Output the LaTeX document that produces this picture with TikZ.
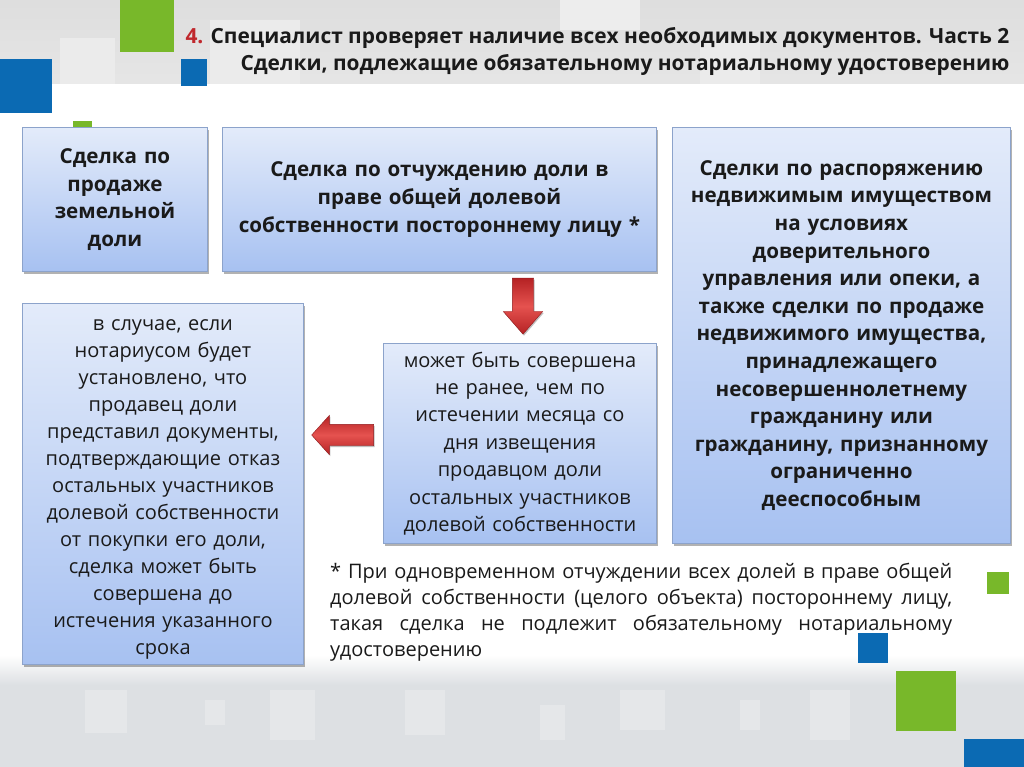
\documentclass[tikz,border=0pt]{standalone}
\usepackage{fontspec}
\setmainfont{Open Sans}
\usetikzlibrary{shadows,shapes.arrows}
\definecolor{grn}{HTML}{78B82A}
\definecolor{blu}{HTML}{0B6AB3}
\definecolor{bxtop}{HTML}{E3EBFA}
\definecolor{bxbot}{HTML}{A7C1F1}
\definecolor{bxline}{HTML}{8CA3CB}
\definecolor{titlered}{HTML}{C0282D}
\definecolor{arrdark}{HTML}{B52224}
\definecolor{arrlight}{HTML}{E5524F}
\definecolor{txt}{HTML}{1A1A1A}
\definecolor{bandgray}{HTML}{DDE0E3}
\definecolor{fadegray}{HTML}{E5E7E9}
\tikzset{
  box/.style={draw=bxline, line width=0.9pt, top color=bxtop, bottom color=bxbot,
    drop shadow={shadow xshift=2pt, shadow yshift=-3pt, fill=black, opacity=0.3},
    align=center, inner sep=3pt, anchor=north west, text=txt},
  boldtext/.style={font=\bfseries\fontsize{20.6}{27.6}\selectfont},
  plaintext/.style={font=\fontsize{20}{27.4}\selectfont},
  redarrow/.style={single arrow, draw=arrdark!80!black, line width=0.4pt,
    top color=arrdark, bottom color=arrdark, middle color=arrlight,
    inner xsep=0pt, inner ysep=10.5pt, single arrow head indent=0pt,
    drop shadow={shadow xshift=1pt, shadow yshift=-1.5pt, fill=black, opacity=0.25}},
  fade/.style={fill=fadegray, draw=none}
}
\begin{document}
\begin{tikzpicture}[x=1pt,y=-1pt]
\useasboundingbox (0,0) rectangle (1024,767);
% background
\fill[white] (0,0) rectangle (1024,767);
\shade[top color=black!13, bottom color=black!10] (0,0) rectangle (1024,84);
\fill[black!8] (60,38) rectangle (115,84);
\fill[black!8] (210,20) rectangle (300,84);
\fill[black!7] (560,0) rectangle (640,30);
\fill[black!8] (700,40) rectangle (760,84);
\shade[top color=white, bottom color=bandgray] (0,655) rectangle (1024,685);
\fill[bandgray] (0,685) rectangle (1024,767);
\fill[fade] (85,690) rectangle (127,733);
\fill[fade] (205,700) rectangle (225,725);
\fill[fade] (270,690) rectangle (315,740);
\fill[fade] (405,690) rectangle (445,735);
\fill[fade] (540,705) rectangle (565,740);
\fill[fade] (620,690) rectangle (665,730);
\fill[fade] (740,700) rectangle (760,730);
\fill[fade] (810,690) rectangle (850,740);
% decorative squares
\fill[grn] (120,0) rectangle (174,52);
\fill[blu] (0,59) rectangle (52,113);
\fill[blu] (181,59) rectangle (207,86);
\fill[grn] (73,121) rectangle (92,135);
\fill[grn] (987,572) rectangle (1009,594);
\fill[blu] (858,633) rectangle (888,663);
\fill[grn] (896,671) rectangle (956,731);
\fill[blu] (964,739) rectangle (1024,767);
% title
\node[anchor=east, align=right, font=\bfseries\fontsize{20.9}{27}\selectfont, text=txt] (title) at (1013,51)
  {{\color{titlered}4.} Специалист проверяет наличие всех необходимых документов. Часть 2\\
   Сделки, подлежащие обязательному нотариальному удостоверению};
% boxes
\node[box, boldtext, minimum width=185pt, minimum height=144pt, text width=178pt] (b1) at (22,127)
  {Сделка по\\продаже\\земельной\\доли};
\node[box, boldtext, minimum width=434pt, minimum height=144pt, text width=426pt] (b2) at (222,127)
  {Сделка по отчуждению доли в\\праве общей долевой\\собственности постороннему лицу *};
\node[box, boldtext, minimum width=338pt, minimum height=416pt, text width=332pt] (b3) at (672,127)
  {Сделки по распоряжению\\недвижимым имуществом\\на условиях\\доверительного\\управления или опеки, а\\также сделки по продаже\\недвижимого имущества,\\принадлежащего\\несовершеннолетнему\\гражданину или\\гражданину, признанному\\ограниченно\\дееспособным};
\node[box, font=\fontsize{20}{27}\selectfont, minimum width=281pt, minimum height=361pt, text width=275pt] (b4) at (22,303)
  {\rule{0pt}{22pt}в случае, если\\нотариусом будет\\установлено, что\\продавец доли\\представил документы,\\подтверждающие отказ\\остальных участников\\долевой собственности\\от покупки его доли,\\сделка может быть\\совершена до\\истечения указанного\\срока};
\node[box, plaintext, minimum width=273pt, minimum height=200pt, text width=267pt] (b5) at (383,343)
  {может быть совершена\\не ранее, чем по\\истечении месяца со\\дня извещения\\продавцом доли\\остальных участников\\долевой собственности};
% arrows
\node[redarrow, minimum height=56pt, single arrow head extend=9pt,
  single arrow tip angle=82, rotate=-90] (a1) at (523,300) {};
\node[redarrow, minimum height=62pt, single arrow head extend=9pt,
  single arrow tip angle=96, rotate=180] (a2) at (347.5,435) {};
% footnote
\node[anchor=north west, text width=622pt, align=justify, inner sep=0pt, text=txt,
  font=\fontsize{20}{26}\selectfont] (note) at (330,563)
  {* При одновременном отчуждении всех долей в праве общей\linebreak
   долевой собственности (целого объекта) постороннему лицу,\linebreak
   такая сделка не подлежит обязательному нотариальному\linebreak
   удостоверению};
\end{tikzpicture}
\end{document}
